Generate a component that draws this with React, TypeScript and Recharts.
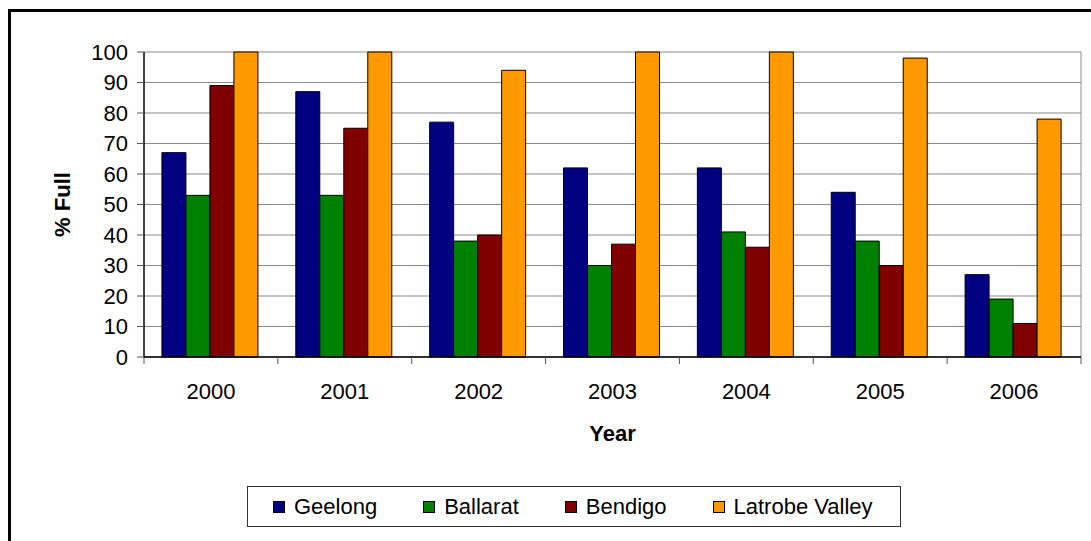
import { Bar, BarChart, CartesianGrid, Legend, XAxis, YAxis } from "recharts";

const years = ["2000", "2001", "2002", "2003", "2004", "2005", "2006"];
const geelong = [67, 87, 77, 62, 62, 54, 27];
const ballarat = [53, 53, 38, 30, 41, 38, 19];
const bendigo = [89, 75, 40, 37, 36, 30, 11];
const latrobe = [100, 100, 94, 100, 100, 98, 78];
const yTicks = [0, 10, 20, 30, 40, 50, 60, 70, 80, 90, 100];

const series = [
  { key: "geelong", name: "Geelong", color: "#000080" },
  { key: "ballarat", name: "Ballarat", color: "#008000" },
  { key: "bendigo", name: "Bendigo", color: "#800000" },
  { key: "latrobe", name: "Latrobe Valley", color: "#FF9900" },
];

const data = years.map((year, i) => ({
  year,
  geelong: geelong[i],
  ballarat: ballarat[i],
  bendigo: bendigo[i],
  latrobe: latrobe[i],
}));

const FONT = '"Liberation Sans", Arial, sans-serif';

// ticks sit on the boundaries between categories, not under the bars
function YearTick(props: any) {
  const { x, y, payload, index, visibleTicksCount, width } = props;
  const half = payload?.offset ?? width / years.length / 2;
  const last = index === (visibleTicksCount ?? years.length) - 1;
  return (
    <g>
      <line x1={x - half} x2={x - half} y1={y - 7} y2={y} stroke="#555" />
      {last && <line x1={x + half} x2={x + half} y1={y - 7} y2={y} stroke="#555" />}
      <text x={x} y={y + 35} textAnchor="middle" fontSize={22} fill="#000" fontFamily={FONT}>
        {payload.value}
      </text>
    </g>
  );
}

function LegendBox() {
  return (
    <div
      style={{
        boxSizing: "border-box",
        width: "100%",
        height: "100%",
        border: "1px solid #333",
        display: "flex",
        alignItems: "center",
        paddingLeft: 25,
        gap: 46,
        fontFamily: FONT,
        fontSize: 22,
        color: "#000",
      }}
    >
      {series.map((s) => (
        <div key={s.key} style={{ display: "flex", alignItems: "center" }}>
          <span
            style={{
              display: "inline-block",
              boxSizing: "border-box",
              width: 12,
              height: 12,
              background: s.color,
              border: "1px solid #000",
              marginRight: 9,
            }}
          />
          <span>{s.name}</span>
        </div>
      ))}
    </div>
  );
}

export default function App() {
  return (
    <div style={{ position: "absolute", left: 0, top: 0, width: 1091, height: 541, overflow: "hidden", background: "#fff" }}>
      <div
        style={{
          position: "absolute",
          left: 8,
          top: 9,
          width: 2000,
          height: 2000,
          borderLeft: "3px solid #000",
          borderTop: "3px solid #000",
        }}
      />
      <BarChart
        width={1091}
        height={541}
        data={data}
        margin={{ top: 52, right: 10, bottom: 94, left: 0 }}
        barCategoryGap="13.4%"
        barGap={0}
        style={{ fontFamily: FONT }}
      >
        <CartesianGrid
          stroke="#8a8a8a"
          verticalCoordinatesGenerator={({ offset }: any) => [offset.left + offset.width]}
        />
        <XAxis
          dataKey="year"
          height={90}
          axisLine={{ stroke: "#000", strokeWidth: 1.5 }}
          tickLine={false}
          tickSize={7}
          tickMargin={0}
          tick={<YearTick />}
          interval={0}
          label={{
            value: "Year",
            position: "insideBottom",
            offset: 6,
            fontSize: 22,
            fontWeight: "bold",
            fill: "#000",
            fontFamily: FONT,
          }}
        />
        <YAxis
          width={144}
          domain={[0, 100]}
          ticks={yTicks}
          interval={0}
          axisLine={{ stroke: "#000", strokeWidth: 1.5 }}
          tickLine={{ stroke: "#555" }}
          tickSize={7}
          tickMargin={9}
          tick={{ fontSize: 22, fill: "#000", fontFamily: FONT }}
          label={{
            content: ({ viewBox }: any) => {
              const cx = viewBox.x + 62;
              const cy = viewBox.y + viewBox.height / 2;
              return (
                <text
                  x={cx}
                  y={cy}
                  transform={`rotate(-90 ${cx} ${cy})`}
                  textAnchor="middle"
                  dominantBaseline="central"
                  fontSize={22}
                  fontWeight="bold"
                  fill="#000"
                  fontFamily={FONT}
                >
                  % Full
                </text>
              );
            },
          }}
        />
        <Legend
          layout="horizontal"
          verticalAlign="middle"
          align="center"
          content={<LegendBox />}
          wrapperStyle={{ left: 247, top: 486, width: 654, height: 41 }}
        />
        {series.map((s) => (
          <Bar key={s.key} dataKey={s.key} name={s.name} fill={s.color} stroke="#000" strokeWidth={1} isAnimationActive={false} />
        ))}
      </BarChart>
    </div>
  );
}
